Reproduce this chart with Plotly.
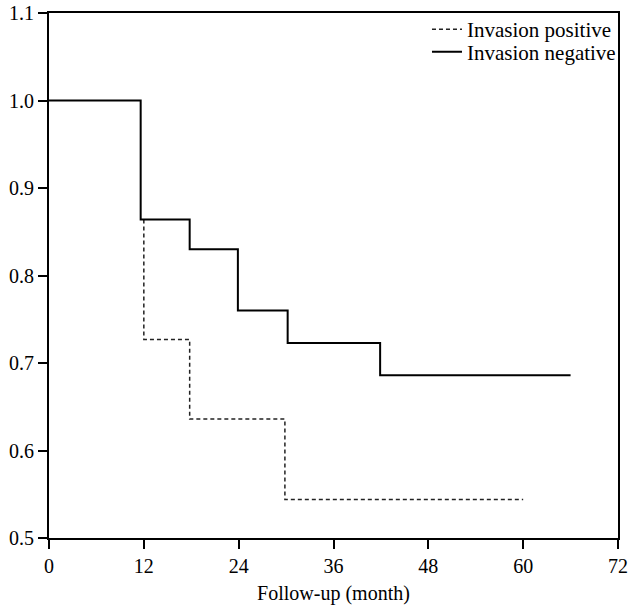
import plotly.graph_objects as go

# Data
neg_time = [0, 11.6, 17.8, 23.9, 30.2, 41.9, 66.0]
neg_surv = [1.0, 0.864, 0.830, 0.760, 0.723, 0.686, 0.686]

pos_time = [12.0, 12.0, 17.8, 29.85, 60.0]
pos_surv = [0.864, 0.727, 0.636, 0.544, 0.544]

x_ticks = [0, 12, 24, 36, 48, 60, 72]
y_ticks = [0.5, 0.6, 0.7, 0.8, 0.9, 1.0, 1.1]
y_labels = ["0.5", "0.6", "0.7", "0.8", "0.9", "1.0", "1.1"]

FONT = "Liberation Serif"

fig = go.Figure()
fig.add_trace(go.Scatter(
    x=pos_time, y=pos_surv, mode="lines", line_shape="hv",
    name="Invasion positive", legend="legend",
    line=dict(color="#222222", width=1.5, dash="4px,3px"),
))
fig.add_trace(go.Scatter(
    x=neg_time, y=neg_surv, mode="lines", line_shape="hv",
    name="Invasion negative", legend="legend2",
    line=dict(color="#000000", width=2),
))

legend_common = dict(
    xanchor="left", yanchor="top",
    bgcolor="rgba(0,0,0,0)", borderwidth=0,
    font=dict(family=FONT, size=21, color="black"),
    tracegroupgap=0, itemwidth=30,
)

fig.update_layout(
    width=628, height=606,
    margin=dict(l=49, r=10, t=13, b=68, autoexpand=False),
    paper_bgcolor="white", plot_bgcolor="white",
    font=dict(family=FONT, size=20, color="black"),
    showlegend=True,
    legend=dict(x=0.6643, y=1.0074, **legend_common),
    legend2=dict(x=0.6643, y=0.9648, **legend_common),
    xaxis=dict(
        range=[0, 72], tickvals=x_ticks, ticktext=[str(v) for v in x_ticks],
        showline=True, linecolor="black", linewidth=2, mirror=True,
        ticks="outside", ticklen=9, tickwidth=2, tickcolor="black",
        showgrid=False, zeroline=False, automargin=False,
        ticklabeloverflow="allow",
        tickfont=dict(family=FONT, size=20),
        title=dict(text="Follow-up (month)", font=dict(family=FONT, size=20), standoff=10),
    ),
    yaxis=dict(
        range=[0.5, 1.1], tickvals=y_ticks, ticktext=y_labels,
        showline=True, linecolor="black", linewidth=2, mirror=True,
        ticks="outside", ticklen=9, tickwidth=2, tickcolor="black",
        showgrid=False, zeroline=False, automargin=False,
        tickfont=dict(family=FONT, size=20),
    ),
)

fig.write_html(
    "out.html",
    config={"displayModeBar": False},
    post_script="document.body.style.margin='0';document.body.style.padding='0';"
                "document.documentElement.style.overflow='hidden';",
)
